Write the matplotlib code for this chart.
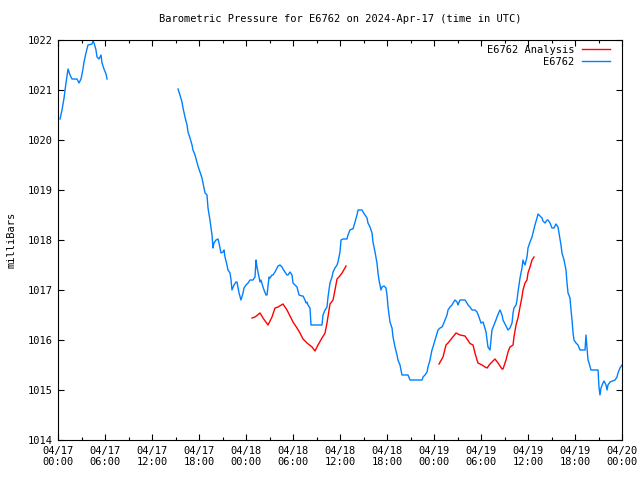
import matplotlib
matplotlib.use('Agg')
import matplotlib.pyplot as plt
import numpy as np
import pandas as pd

# hours since 2024-04-17 00:00 UTC, pressure in mbar; NaN marks a data gap
obs_hours = [0.26, 0.51, 0.77, 1.02, 1.28, 1.53, 1.79, 2.43, 2.68, 2.94, 3.19, 3.32, 3.57, 3.83,
             4.34, 4.47, 4.60, 4.85, 4.98, 5.23, 5.49, 5.62, 5.87, 6.13, 6.26, 10.0,
             15.32, 15.57, 15.83, 15.96, 16.21, 16.47, 16.60, 16.85, 17.11, 17.23, 17.49, 17.74,
             17.87, 18.13, 18.38, 18.51, 18.77, 19.02, 19.15, 19.40, 19.66, 19.79, 19.91, 20.17,
             20.43, 20.55, 20.81, 21.06, 21.19, 21.32, 21.57, 21.70, 21.96, 22.09, 22.21, 22.47,
             22.72, 22.85, 23.11, 23.36, 23.62, 23.74, 24.00, 24.26, 24.51, 24.89, 25.15, 25.28,
             25.40, 25.66, 25.79, 25.91, 26.17, 26.30, 26.55, 26.68, 26.94, 27.06, 27.32, 27.45,
             27.70, 27.96, 28.09, 28.34, 28.60, 28.72, 28.98, 29.23, 29.36, 29.62, 29.87, 30.00,
             30.51, 30.77, 31.15, 31.28, 31.53, 31.66, 31.79, 31.91, 32.17, 32.30, 33.70, 33.83,
             34.09, 34.34, 34.47, 34.72, 34.98, 35.11, 35.36, 35.62, 35.74, 36.00, 36.13, 36.38,
             36.89, 37.02, 37.28, 37.53, 37.66, 37.91, 38.17, 38.30, 38.81, 38.94, 39.19, 39.45,
             39.57, 39.83, 40.09, 40.21, 40.47, 40.72, 40.85, 40.98, 41.23, 41.36, 41.62, 41.87,
             42.00, 42.13, 42.38, 42.64, 42.77, 43.02, 43.28, 43.40, 43.66, 43.91, 44.68, 44.94,
             46.47, 46.60, 46.85, 47.11, 47.23, 47.49, 47.74, 47.87, 48.13, 48.38, 48.51, 48.77,
             49.02, 49.15, 49.40, 49.66, 49.79, 50.04, 50.30, 50.43, 50.68, 50.94, 51.06, 51.32,
             51.96, 52.21, 52.34, 52.60, 52.85, 53.23, 53.49, 53.74, 54.00, 54.26, 54.38, 54.64,
             54.77, 54.89, 55.15, 55.28, 55.40, 55.66, 55.91, 56.04, 56.30, 56.43, 56.68, 56.81,
             57.06, 57.32, 57.45, 57.70, 57.96, 58.09, 58.21, 58.47, 58.60, 58.72, 58.98, 59.23,
             59.36, 59.49, 59.62, 59.87, 60.00, 60.26, 60.51, 60.64, 60.89, 61.15, 61.28, 61.53,
             61.79, 61.91, 62.17, 62.43, 62.55, 62.81, 63.06, 63.32, 63.57, 63.83, 63.96, 64.21,
             64.34, 64.60, 64.85, 64.98, 65.11, 65.36, 65.49, 65.62, 65.74, 65.87, 66.13, 66.38,
             66.64, 67.28, 67.40, 67.53, 67.66, 67.79, 68.04, 68.94, 69.06, 69.19, 69.32, 69.57,
             69.70, 69.96, 70.09, 70.21, 70.47, 71.11, 71.36, 71.49, 71.74, 72.00]
obs_mbar = [1020.42, 1020.60, 1020.84, 1021.14, 1021.42, 1021.30, 1021.22, 1021.22, 1021.14, 1021.22,
            1021.42, 1021.56, 1021.74, 1021.90, 1021.92, 1021.98, 1021.94, 1021.80, 1021.66, 1021.62,
            1021.70, 1021.54, 1021.42, 1021.32, 1021.22, np.nan,
            1021.02, 1020.90, 1020.76, 1020.64, 1020.46, 1020.30, 1020.16, 1020.04, 1019.90, 1019.80,
            1019.70, 1019.56, 1019.48, 1019.36, 1019.24, 1019.14, 1018.94, 1018.90, 1018.64, 1018.40,
            1018.10, 1017.84, 1017.94, 1018.00, 1018.02, 1017.94, 1017.74, 1017.76, 1017.80, 1017.66,
            1017.50, 1017.40, 1017.34, 1017.20, 1017.00, 1017.10, 1017.16, 1017.16, 1016.94, 1016.80,
            1016.94, 1017.04, 1017.10, 1017.14, 1017.20, 1017.20, 1017.26, 1017.60, 1017.46, 1017.26,
            1017.16, 1017.20, 1017.06, 1017.00, 1016.90, 1016.90, 1017.26, 1017.24, 1017.30, 1017.30,
            1017.36, 1017.44, 1017.48, 1017.50, 1017.46, 1017.42, 1017.36, 1017.30, 1017.30, 1017.36,
            1017.30, 1017.14, 1017.06, 1016.90, 1016.88, 1016.88, 1016.80, 1016.74, 1016.76, 1016.70,
            1016.64, 1016.30, 1016.30, 1016.50, 1016.60, 1016.66, 1016.86, 1017.14, 1017.26, 1017.36,
            1017.44, 1017.50, 1017.56, 1017.76, 1018.00, 1018.02, 1018.02, 1018.10, 1018.20, 1018.22,
            1018.22, 1018.36, 1018.50, 1018.60, 1018.60, 1018.56, 1018.50, 1018.44, 1018.34, 1018.26,
            1018.14, 1017.96, 1017.76, 1017.54, 1017.34, 1017.20, 1017.00, 1017.06, 1017.08, 1017.04,
            1016.90, 1016.66, 1016.36, 1016.24, 1016.06, 1015.86, 1015.70, 1015.60, 1015.50, 1015.30,
            1015.30, 1015.20, 1015.20, 1015.26, 1015.30, 1015.36, 1015.46, 1015.60, 1015.80, 1015.86,
            1016.00, 1016.14, 1016.20, 1016.24, 1016.26, 1016.30, 1016.40, 1016.50, 1016.60, 1016.66,
            1016.70, 1016.74, 1016.80, 1016.76, 1016.70, 1016.80, 1016.80, 1016.74, 1016.70, 1016.66,
            1016.60, 1016.60, 1016.56, 1016.46, 1016.34, 1016.36, 1016.30, 1016.16, 1016.00, 1015.86,
            1015.80, 1016.00, 1016.20, 1016.30, 1016.40, 1016.46, 1016.56, 1016.60, 1016.50, 1016.40,
            1016.32, 1016.24, 1016.20, 1016.24, 1016.34, 1016.54, 1016.64, 1016.70, 1016.80, 1016.96,
            1017.24, 1017.44, 1017.60, 1017.54, 1017.50, 1017.66, 1017.84, 1017.96, 1018.06, 1018.14,
            1018.30, 1018.44, 1018.52, 1018.48, 1018.44, 1018.38, 1018.34, 1018.40, 1018.40, 1018.34,
            1018.24, 1018.24, 1018.32, 1018.26, 1018.14, 1017.90, 1017.74, 1017.60, 1017.40, 1017.14,
            1016.94, 1016.84, 1016.60, 1016.40, 1016.16, 1016.00, 1015.94, 1015.90, 1015.80, 1015.80,
            1016.10, 1015.86, 1015.60, 1015.54, 1015.40, 1015.40, 1015.06, 1014.90, 1015.04, 1015.14,
            1015.18, 1015.10, 1015.00, 1015.10, 1015.16, 1015.20, 1015.26, 1015.34, 1015.44, 1015.50]

ana_hours = [24.77, 25.15, 25.79, 26.17, 26.81, 27.32, 27.70, 28.09, 28.72, 29.23, 29.62, 30.00,
             30.51, 30.89, 31.28, 31.79, 32.43, 32.81, 33.19, 33.70, 34.09, 34.34, 34.72, 35.11,
             35.36, 35.62, 35.87, 36.26, 36.77, 42.0,
             48.64, 49.15, 49.53, 49.79, 50.30, 50.81, 51.32, 51.96, 52.60, 52.98, 53.23, 53.49,
             53.62, 54.13, 54.51, 54.77, 55.15, 55.53, 55.79, 56.17, 56.68, 56.81, 57.19, 57.45,
             57.70, 58.09, 58.21, 58.47, 58.72, 58.98, 59.23, 59.36, 59.62, 59.87, 60.00, 60.26,
             60.51, 60.77]
ana_mbar = [1016.44, 1016.46, 1016.54, 1016.44, 1016.30, 1016.46, 1016.64, 1016.66, 1016.72, 1016.60,
            1016.48, 1016.36, 1016.24, 1016.14, 1016.02, 1015.94, 1015.86, 1015.78, 1015.90, 1016.04,
            1016.14, 1016.34, 1016.72, 1016.80, 1017.00, 1017.22, 1017.26, 1017.34, 1017.48, np.nan,
            1015.52, 1015.66, 1015.90, 1015.94, 1016.04, 1016.14, 1016.10, 1016.08, 1015.93, 1015.90,
            1015.74, 1015.60, 1015.54, 1015.50, 1015.46, 1015.44, 1015.52, 1015.58, 1015.62, 1015.54,
            1015.42, 1015.42, 1015.60, 1015.76, 1015.86, 1015.90, 1016.06, 1016.30, 1016.44, 1016.66,
            1016.86, 1017.00, 1017.14, 1017.20, 1017.34, 1017.46, 1017.60, 1017.66]

start = pd.Timestamp('2024-04-17 00:00')
obs_time = start + pd.to_timedelta(obs_hours, unit='h')
ana_time = start + pd.to_timedelta(ana_hours, unit='h')

tick_times = pd.date_range(start, periods=13, freq='6h')
tick_labels = [t.strftime('%m/%d\n%H:%M') for t in tick_times]
minor_times = pd.date_range(start, periods=25, freq='3h')

plt.rcParams['font.family'] = ['DejaVu Sans Mono']
plt.rcParams['font.size'] = 7.5

fig = plt.figure(figsize=(6.4, 4.8), dpi=100)
ax = fig.add_axes([58 / 640, 40 / 480, 564 / 640, 400 / 480])

l_obs, = ax.plot(obs_time, obs_mbar, color='#0080ff', linewidth=1.0, label='E6762')
l_ana, = ax.plot(ana_time, ana_mbar, color='#ff0000', linewidth=1.0, label='E6762 Analysis')

ax.set_xlim(tick_times[0], tick_times[-1])
ax.set_ylim(1014, 1022)
ax.set_xticks(tick_times)
ax.set_xticklabels(tick_labels)
ax.set_xticks(minor_times, minor=True)
ax.set_yticks(np.arange(1014, 1023, 1))
ax.tick_params(which='both', direction='in', top=True, right=True, width=0.8)
ax.tick_params(which='major', length=4.5, pad=4)
ax.tick_params(which='minor', length=2.5)
for s in ax.spines.values():
    s.set_linewidth(0.8)

ax.set_title('Barometric Pressure for E6762 on 2024-Apr-17 (time in UTC)', fontsize=7.5, pad=13)
ax.set_ylabel('milliBars', labelpad=8)

ax.legend(handles=[l_ana, l_obs], loc='upper right', bbox_to_anchor=(0.986, 0.998),
          frameon=False, markerfirst=False, borderaxespad=0,
          handlelength=2.7, handletextpad=0.7, labelspacing=0.15)

plt.savefig('out.png', dpi=100)
